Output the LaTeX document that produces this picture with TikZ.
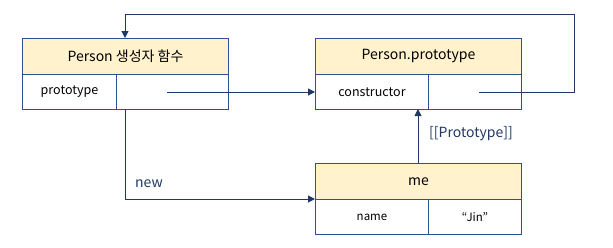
\documentclass[tikz,border=0pt]{standalone}
\usepackage{fontspec}
\setmainfont{Noto Sans CJK KR}
\usetikzlibrary{arrows.meta}
\definecolor{boxline}{HTML}{2F5090}
\definecolor{hdr}{HTML}{FFF2CC}
\definecolor{navy}{HTML}{1F3864}
\tikzset{
  cell/.style={draw=boxline, line width=1pt, minimum height=35pt, inner sep=0pt, anchor=north west},
  hdrcell/.style={cell, fill=hdr, minimum height=36pt, font=\fontsize{14}{16}\selectfont},
  rowcell/.style={cell, font=\fontsize{12.5}{14}\selectfont},
  conn/.style={draw=navy, line width=1pt, -{Triangle[length=7pt,width=7pt]}},
  lbl/.style={text=navy, font=\fontsize{14}{16}\selectfont, inner sep=0pt},
}
\begin{document}
\begin{tikzpicture}[x=1pt,y=-1pt]
\useasboundingbox (0,0) rectangle (613,247);
% Person constructor
\node[hdrcell, minimum width=206pt] (ph) at (22,38) {Person 생성자 함수};
\node[rowcell, minimum width=94pt] (pk) at (22,74) {prototype};
\node[rowcell, minimum width=112pt] (pv) at (116,74) {};
% Person.prototype
\node[hdrcell, minimum width=206pt] (prh) at (315,38) {Person.prototype};
\node[rowcell, minimum width=113pt] (prk) at (315,74) {constructor};
\node[rowcell, minimum width=93pt] (prv) at (428,74) {};
% me
\node[hdrcell, minimum width=206pt] (mh) at (315,163) {me};
\node[rowcell, minimum width=113pt, font=\fontsize{11.5}{13}\selectfont] (mk) at (315,199) {name};
\node[rowcell, minimum width=93pt, font=\fontsize{11.5}{13}\selectfont] (mv) at (428,199) {“Jin”};
% connectors
\coordinate (a1) at (167,92);
\draw[conn] (a1) -- (a1 -| prk.west);
\coordinate (b1) at (479,92);
\coordinate (b2) at (574,92);
\coordinate (b3) at (574,14);
\coordinate (b4) at (125,14);
\draw[conn] (b1) -- (b2) -- (b3) -- (b4) -- (b4 |- ph.north);
\coordinate (c1) at (125,109);
\coordinate (c2) at (125,199);
\draw[conn] (c1) -- (c2) -- (c2 -| mh.west);
\coordinate (d1) at (418,163);
\draw[conn] (d1) -- (418,109);
\node[lbl, anchor=west] (newl) at (135,184) {new};
\node[lbl, anchor=west] (protl) at (429,134) {[[Prototype]]};
\end{tikzpicture}
\end{document}
